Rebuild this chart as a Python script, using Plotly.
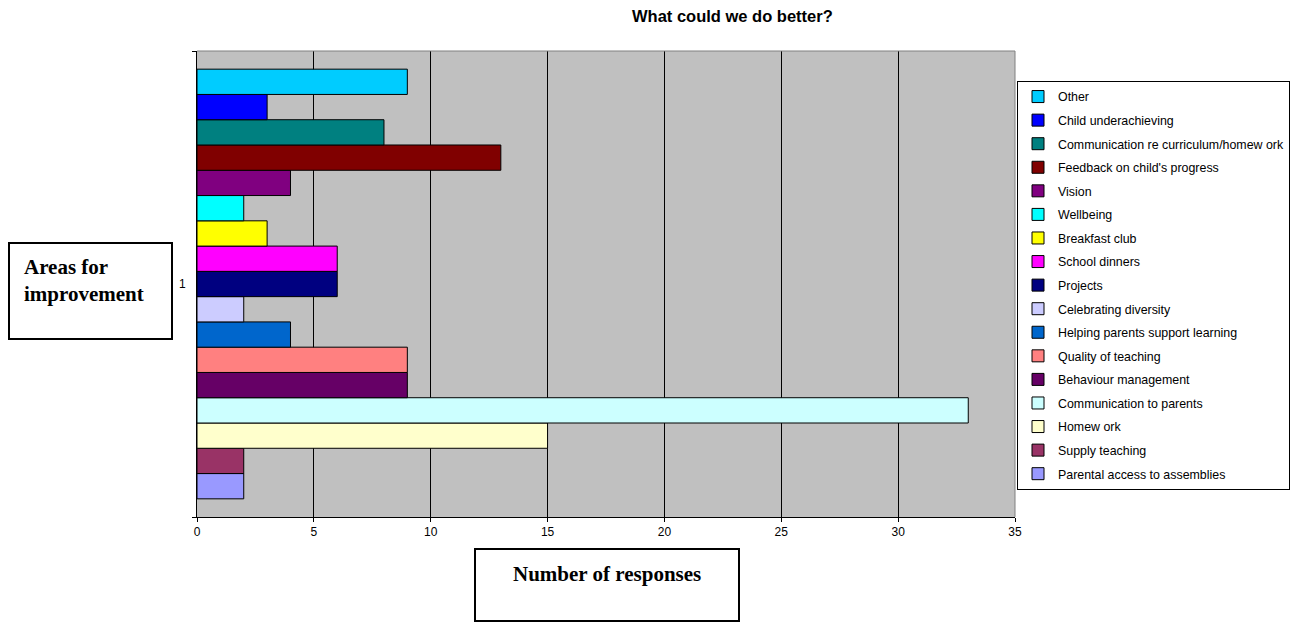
import plotly.graph_objects as go

# Series (bottom bar first -> top bar last)
series_names = [
    "Parental access to assemblies",
    "Supply teaching",
    "Homew ork",
    "Communication to parents",
    "Behaviour management",
    "Quality of teaching",
    "Helping parents support learning",
    "Celebrating diversity",
    "Projects",
    "School dinners",
    "Breakfast club",
    "Wellbeing",
    "Vision",
    "Feedback on child's progress",
    "Communication re curriculum/homew ork",
    "Child underachieving",
    "Other",
]
series_values = [2, 2, 15, 33, 9, 9, 4, 2, 6, 6, 3, 2, 4, 13, 8, 3, 9]
series_colors = [
    "#9999FF", "#993366", "#FFFFCC", "#CCFFFF", "#660066", "#FF8080",
    "#0066CC", "#CCCCFF", "#000080", "#FF00FF", "#FFFF00", "#00FFFF",
    "#800080", "#800000", "#008080", "#0000FF", "#00CCFF",
]
categories = ["1"]
x_ticks = [0, 5, 10, 15, 20, 25, 30, 35]

# page body has an 8px margin; compensate so the picture lands on the reference pixels
OFF = 8
W, H = 1299 - OFF, 624 - OFF
L, R, T, B = 197, 1015, 51, 517   # plot-area edges in screen pixels


def px_x(p):
    return (p - L) / (R - L)


def px_y(p):
    return (B - p) / (B - T)


n = len(series_names)
fig = go.Figure()
for i, (name, val, col) in enumerate(zip(series_names, series_values, series_colors)):
    fig.add_trace(go.Bar(
        y=categories, x=[val], name=name, orientation="h",
        marker=dict(color=col, line=dict(color="black", width=1)),
        legendgroup="g%d" % i,
        legendrank=n - i,
    ))

fig.update_layout(
    width=W, height=H,
    margin=dict(l=L - OFF, r=W - (R - OFF), t=T - OFF, b=H - (B - OFF), pad=0,
                autoexpand=False),
    paper_bgcolor="white",
    plot_bgcolor="#C0C0C0",
    barmode="group",
    bargap=0.078,
    bargroupgap=0,
    font=dict(family="Liberation Sans, Arial, sans-serif", color="black", size=12),
    showlegend=True,
    legend=dict(
        traceorder="grouped",
        tracegroupgap=4.45,
        x=px_x(1017), xanchor="left",
        y=px_y(81), yanchor="top",
        bordercolor="black", borderwidth=1,
        bgcolor="white",
        font=dict(size=12.4, family="Liberation Sans, Arial, sans-serif"),
    ),
    xaxis=dict(
        range=[0, 35], tickvals=x_ticks, ticktext=[str(v) for v in x_ticks],
        showgrid=True, gridcolor="black", gridwidth=1,
        showline=True, linecolor="black", linewidth=1,
        ticks="outside", ticklen=4, tickcolor="black",
        tickfont=dict(size=12), zeroline=False,
        fixedrange=True,
    ),
    yaxis=dict(
        type="category", tickson="boundaries",
        showgrid=False, showline=True, linecolor="black", linewidth=1,
        ticks="outside", ticklen=4, tickcolor="black",
        tickfont=dict(size=12), ticklabelstandoff=8,
        fixedrange=True,
    ),
    shapes=[
        # top & right plot border (grey)
        dict(type="line", xref="paper", yref="paper", x0=0, x1=1, y0=1, y1=1,
             line=dict(color="#808080", width=1)),
        dict(type="line", xref="paper", yref="paper", x0=1, x1=1, y0=0, y1=1,
             line=dict(color="#808080", width=1)),
        # axis title boxes
        dict(type="rect", xref="paper", yref="paper",
             x0=px_x(9), x1=px_x(172), y0=px_y(339), y1=px_y(243),
             line=dict(color="black", width=2), fillcolor="white", layer="above"),
        dict(type="rect", xref="paper", yref="paper",
             x0=px_x(475), x1=px_x(739), y0=px_y(621), y1=px_y(549),
             line=dict(color="black", width=2), fillcolor="white", layer="above"),
    ],
    annotations=[
        dict(text="<b>What could we do better?</b>", xref="paper", yref="paper",
             x=px_x(732), y=px_y(16), xanchor="center", yanchor="middle",
             showarrow=False, font=dict(size=16.5, family="Liberation Sans, Arial, sans-serif")),
        dict(text="<b>Areas for<br>improvement</b>", xref="paper", yref="paper",
             x=px_x(22), y=px_y(280), xanchor="left", yanchor="middle", align="left",
             showarrow=False, font=dict(size=21, family="Liberation Serif, Times New Roman, serif")),
        dict(text="<b>Number of responses</b>", xref="paper", yref="paper",
             x=px_x(607), y=px_y(574), xanchor="center", yanchor="middle",
             showarrow=False, font=dict(size=21, family="Liberation Serif, Times New Roman, serif")),
    ],
)

fig.write_html("out.html")
